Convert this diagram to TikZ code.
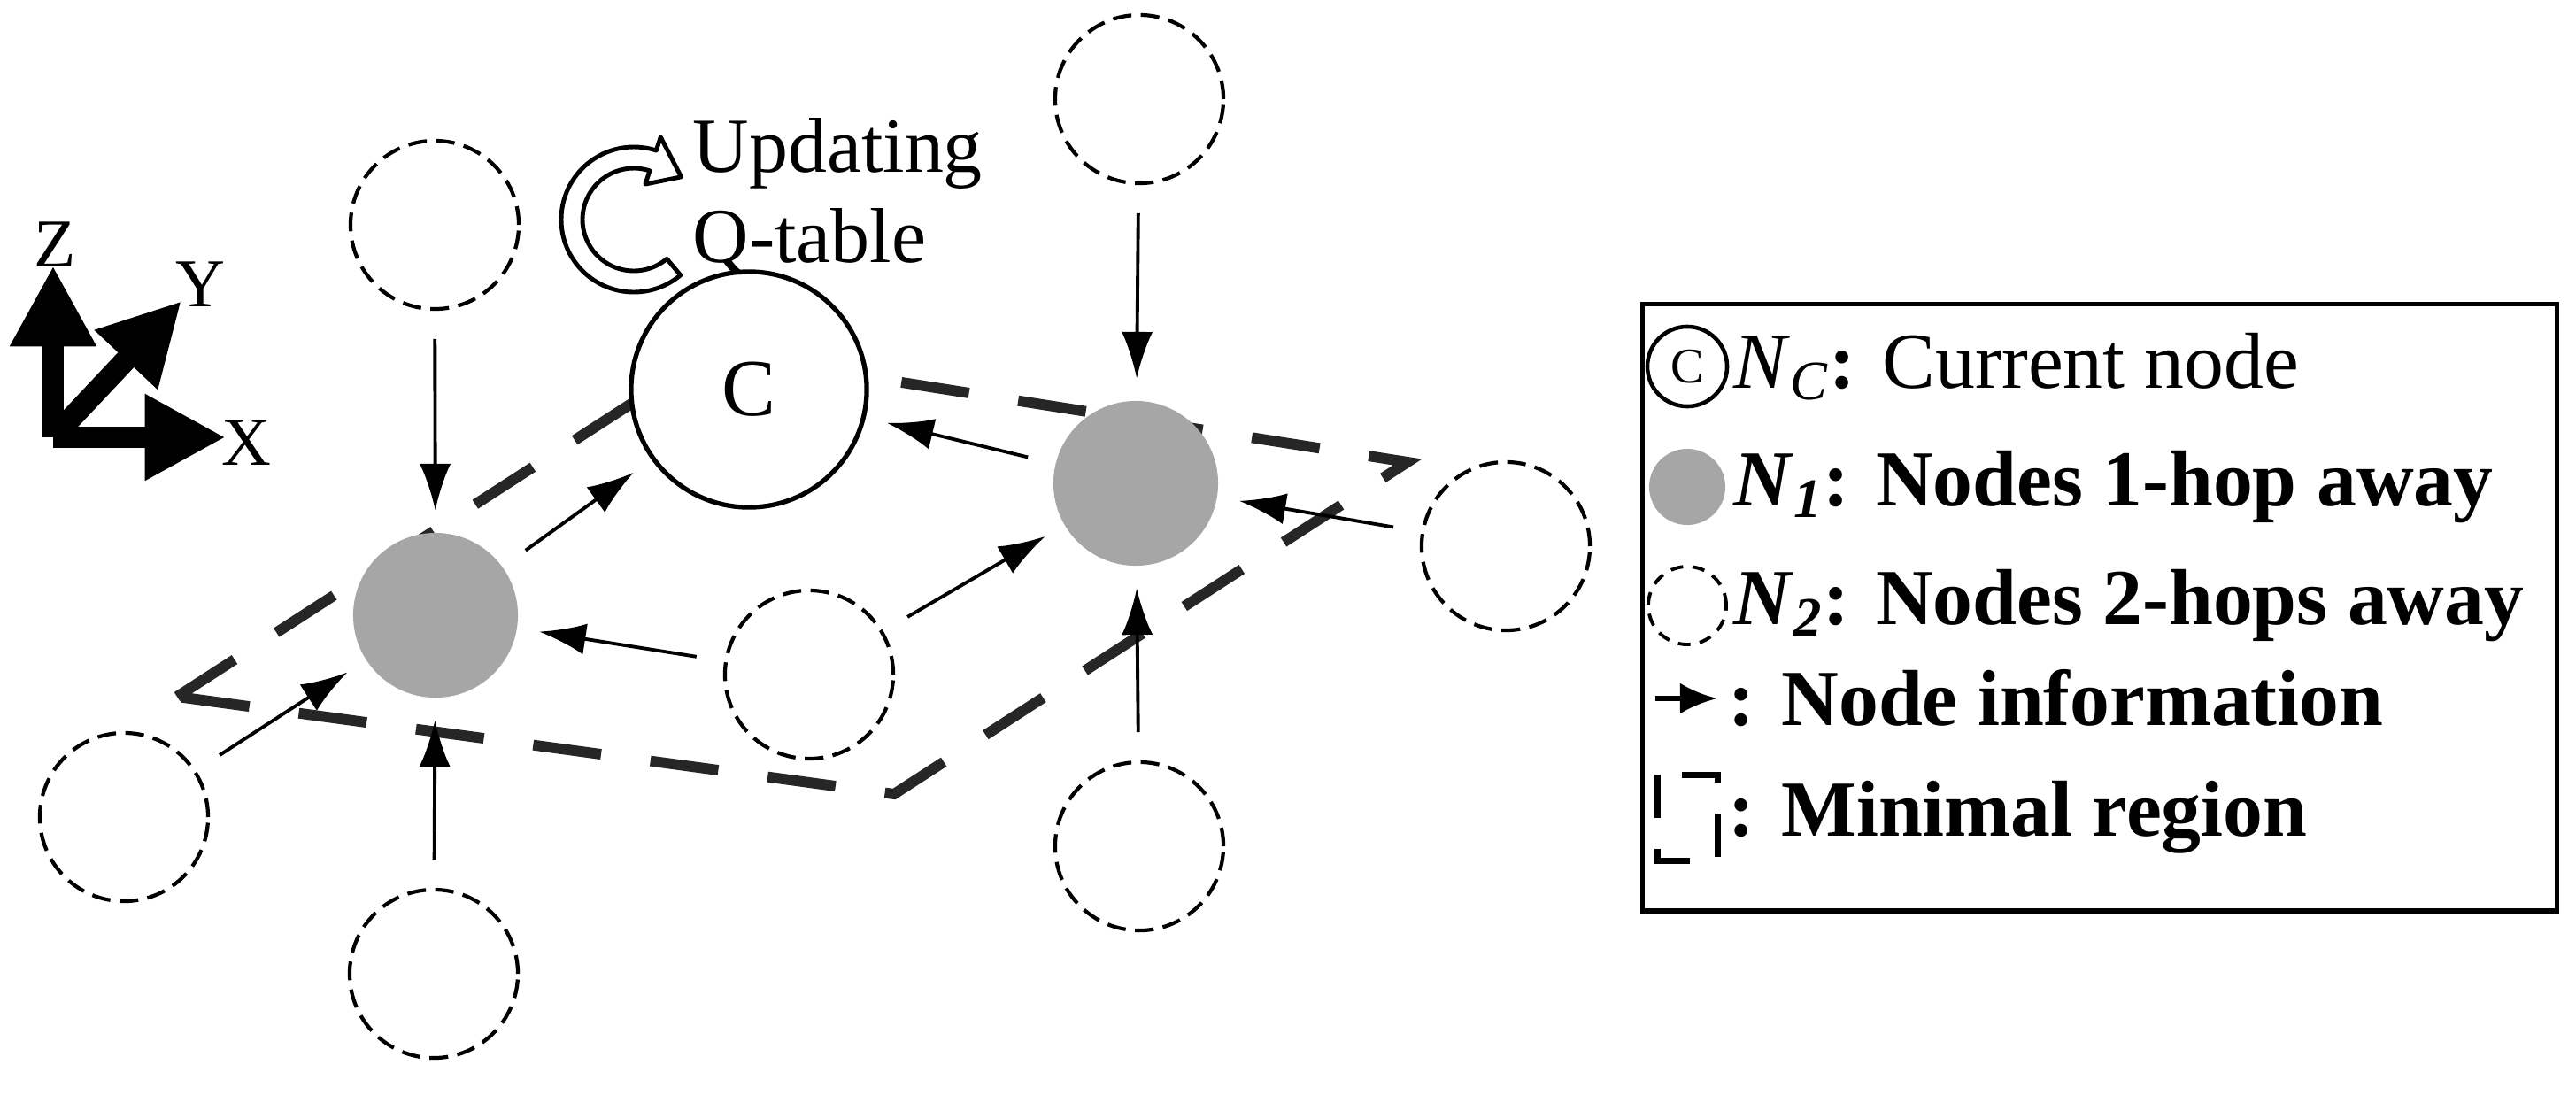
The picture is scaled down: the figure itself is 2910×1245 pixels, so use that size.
\documentclass[tikz,border=0pt]{standalone}
\usepackage{fontspec}
\setmainfont{Liberation Serif}
\usetikzlibrary{arrows.meta}
\newcommand{\NN}[1]{\textit{N}\textsubscript{\textit{#1}}}
\begin{document}
\begin{tikzpicture}[x=0.01cm,y=-0.01cm,
  cur/.style={circle,draw,line width=1.5pt,minimum size=2.66cm,inner sep=0pt,font=\fontsize{26}{30}\selectfont},
  hop1/.style={circle,fill=black!35,minimum size=1.86cm,inner sep=0pt},
  hop2/.style={circle,draw,dashed,dash pattern=on 6pt off 3pt,line width=1.2pt,minimum size=1.9cm,inner sep=0pt},
  info/.style={-{Latex[length=15pt,width=10pt]},line width=1.1pt,shorten <=9pt,shorten >=7pt},
  axis/.style={-{Triangle[length=26pt,width=26pt]},line width=7pt},
  region/.style={line width=3.4pt,dash pattern=on 22pt off 16pt,black!85},
  leg/.style={anchor=west,font=\fontsize{25.5}{29}\selectfont\bfseries,inner sep=0pt}]
\useasboundingbox (0,0) rectangle (2910,1245);
% minimal region
\coordinate (L) at (200,787);
\coordinate (T) at (803,398);
\coordinate (R) at (1590,522);
\coordinate (B) at (1010,897);
\draw[region] (L) -- (T) -- (R) -- (B) -- cycle;
% nodes
\node[cur,fill=white] (C) at (846,440) {C};
\node[hop1] (G1) at (492,695) {};
\node[hop1] (G2) at (1283,546) {};
\node[hop2] (TL) at (491,254) {};
\node[hop2] (TR) at (1287,112) {};
\node[hop2] (RR) at (1701,617) {};
\node[hop2] (MM) at (914,762) {};
\node[hop2] (BL) at (140,923) {};
\node[hop2] (BB) at (490,1100) {};
\node[hop2] (BR) at (1287,956) {};
% arrows
\draw[info] (TL) -- (G1);
\draw[info] (BB) -- (G1);
\draw[info] (BL) -- (G1);
\draw[info] (MM) -- (G1);
\draw[info] (G1) -- (C);
\draw[info] (G2) -- (C);
\draw[info] (TR) -- (G2);
\draw[info] (RR) -- (G2);
\draw[info] (MM) -- (G2);
\draw[info] (BR) -- (G2);
% axes
\coordinate (O) at (60,494);
\coordinate (Zt) at (60,300);
\coordinate (Yt) at (205,340);
\coordinate (Xt) at (255,494);
\draw[axis] (O) -- (Zt);
\draw[axis] (O) -- (Yt);
\draw[axis] (O) -- (Xt);
\node[font=\fontsize{22}{24}\selectfont] (Zl) at (62,276) {Z};
\node[font=\fontsize{22}{24}\selectfont] (Yl) at (226,321) {Y};
\node[font=\fontsize{22}{24}\selectfont] (Xl) at (278,500) {X};
% updating arrow
\begin{scope}[shift={(716,248)},yscale=-1]
\draw[line width=1.4pt,fill=white,line join=round]
  (310:82) arc[start angle=310,end angle=72,radius=82]
  -- (72:98) -- (42:72) -- (72:42)
  -- (72:58) arc[start angle=72,end angle=310,radius=58] -- cycle;
\end{scope}
\node[anchor=west,font=\fontsize{25}{29}\selectfont,align=left,inner sep=0pt] (Up) at (782,222) {Updating\\Q-table};
% legend
\node[draw,line width=1.5pt,minimum width=10.32cm,minimum height=6.85cm,anchor=north west,inner sep=0pt] (Leg) at (1853,341) {};
\node[circle,draw,line width=1.3pt,minimum size=0.9cm,inner sep=0pt,font=\fontsize{16}{18}\selectfont] (l1) at (1906,414) {C};
\node[circle,fill=black!35,minimum size=0.86cm,inner sep=0pt] (l2) at (1906,550) {};
\node[circle,draw,dash pattern=on 4pt off 3pt,line width=1.1pt,minimum size=0.88cm,inner sep=0pt] (l3) at (1906,684) {};
\coordinate (a1) at (1870,789);
\coordinate (a2) at (1940,789);
\draw[-{Latex[length=12pt,width=10pt]},line width=1.8pt] (a1) -- (a2);
\draw[line width=2pt,dash pattern=on 14pt off 10pt] (1872,875) rectangle (1940,972);
\node[leg,font=\fontsize{25.5}{29}\selectfont] (t1) at (1958,414) {\NN{C}\textbf{:} Current node};
\node[leg] (t2) at (1958,550) {\NN{1}: Nodes 1-hop away};
\node[leg] (t3) at (1958,684) {\NN{2}: Nodes 2-hops away};
\node[leg] (t4) at (1952,789) {: Node information};
\node[leg] (t5) at (1952,923) {: Minimal region};
\end{tikzpicture}
\end{document}
